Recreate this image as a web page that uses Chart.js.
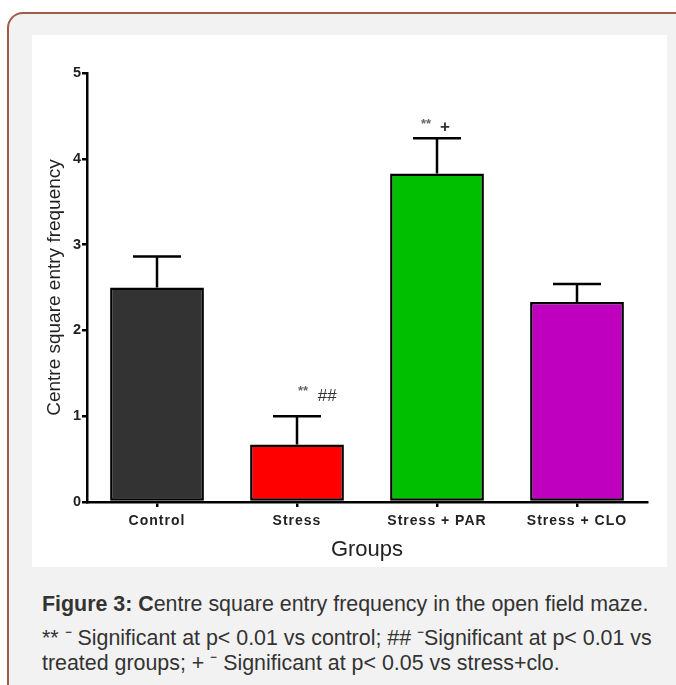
<!DOCTYPE html>
<html>
<head>
<meta charset="utf-8">
<script src="https://cdn.jsdelivr.net/npm/chart.js@4/dist/chart.umd.min.js"></script>
<style>
  html, body { margin: 0; padding: 0; background: #ffffff; width: 676px; height: 685px; overflow: hidden; }
  #frame {
    position: absolute; left: 7px; top: 12px; width: 700px; height: 700px;
    background: #f2f2f2; border-top: 2px solid #a05a48; border-left: 2px solid #a05a48;
    border-top-left-radius: 16px; box-sizing: border-box;
  }
  #panel { position: absolute; left: 32px; top: 35px; width: 635px; height: 532px; background: #ffffff; }
  #caption {
    position: absolute; left: 42px; top: 588px; width: 630px;
    font-family: "Liberation Sans", Arial, sans-serif;
    color: #333333; font-size: 21.4px;
  }
  #caption .l1 { line-height: 32px; }
  #caption .l2 { line-height: 25px; margin-top: 6px; }
</style>
</head>
<body>
<div id="frame"></div>
<div id="panel"><canvas id="c" width="635" height="532"></canvas></div>
<div id="caption">
  <div class="l1"><b>Figure 3: C</b>entre square entry frequency in the open field maze.</div>
  <div class="l2">** ⁻ Significant at p&lt; 0.01 vs control; ## ⁻Significant at p&lt; 0.01 vs treated groups; + ⁻ Significant at p&lt; 0.05 vs stress+clo.</div>
</div>
<script>
const categories = ["Control", "Stress", "Stress + PAR", "Stress + CLO"];
const means = [2.5, 0.67, 3.83, 2.33];
const errors = [0.36, 0.33, 0.41, 0.21];
const annotations = [[], ["**", "##"], ["**", "+"], []];
const yTicks = [0, 1, 2, 3, 4, 5];
const barColors = ["#333333", "#ff0000", "#00bf00", "#bf00bf"];

// placement of the significance marks relative to the error-bar cap (style only)
const annotationPlacement = [[], [[6, -27], [30, -21]], [[-11, -16], [8, -12]], []];

const xLabelSpacingPlugin = {
  id: "xLabelSpacing",
  beforeDraw(chart) {
    const s = chart.scales.x;
    if (!s._spaced) {
      const orig = s.drawLabels.bind(s);
      s.drawLabels = function (area) {
        chart.ctx.save();
        chart.ctx.letterSpacing = "1px";
        orig(area);
        chart.ctx.restore();
      };
      s._spaced = true;
    }
  }
};

const errorBarPlugin = {
  id: "errorBars",
  afterDatasetsDraw(chart) {
    const ctx = chart.ctx;
    const meta = chart.getDatasetMeta(0);
    const y = chart.scales.y;
    ctx.save();
    ctx.strokeStyle = "#000000";
    ctx.lineWidth = 2.5;
    meta.data.forEach((bar, i) => {
      const top = y.getPixelForValue(means[i]);
      const cap = y.getPixelForValue(means[i] + errors[i]);
      ctx.beginPath();
      ctx.moveTo(bar.x, top);
      ctx.lineTo(bar.x, cap);
      ctx.moveTo(bar.x - 24, cap);
      ctx.lineTo(bar.x + 24, cap);
      ctx.stroke();
      annotations[i].forEach((p, k) => {
        const [dx, dy] = annotationPlacement[i][k];
        ctx.textBaseline = "middle";
        ctx.textAlign = "center";
        if (p === "**") {
          ctx.font = "bold 13px 'Liberation Sans', Arial, sans-serif";
          ctx.fillStyle = "#666666";
          ctx.fillText(p, bar.x + dx, cap + dy + 2);
        } else if (p === "##") {
          ctx.font = "italic 17px 'Liberation Sans', Arial, sans-serif";
          ctx.fillStyle = "#333333";
          ctx.fillText(p, bar.x + dx, cap + dy + 1);
        } else {
          ctx.font = "bold 17px 'Liberation Sans', Arial, sans-serif";
          ctx.fillStyle = "#333333";
          ctx.fillText(p, bar.x + dx, cap + dy + 1);
        }
      });
    });
    ctx.restore();
  }
};

new Chart(document.getElementById("c"), {
  type: "bar",
  data: {
    labels: categories,
    datasets: [{
      data: means,
      backgroundColor: barColors,
      borderColor: "#000000",
      borderWidth: 2.5,
      borderSkipped: false,
      categoryPercentage: 1.0,
      barPercentage: 0.67
    }]
  },
  options: {
    responsive: false,
    animation: false,
    devicePixelRatio: 1,
    layout: { padding: { left: 0, right: 20, top: 38, bottom: 0 } },
    plugins: { legend: { display: false }, tooltip: { enabled: false } },
    scales: {
      x: {
        offset: true,
        grid: { display: true, drawOnChartArea: false, drawTicks: true, tickLength: 5, color: "#000000", lineWidth: 2.5, offset: false },
        border: { display: true, color: "#000000", width: 2.5 },
        ticks: { color: "#222222", font: { family: "'Liberation Sans', Arial, sans-serif", size: 14, weight: "bold" }, padding: 6 },
        title: { display: true, text: "Groups", color: "#222222", font: { family: "'Liberation Sans', Arial, sans-serif", size: 22 }, padding: { top: 0 } },
        afterFit(scale) { scale.height = 65; }
      },
      y: {
        min: 0, max: 5,
        afterBuildTicks(scale) { scale.ticks = yTicks.map(v => ({ value: v })); },
        grid: { display: true, drawOnChartArea: false, drawTicks: true, tickLength: 5, color: "#000000", lineWidth: 2.5 },
        border: { display: true, color: "#000000", width: 2.5 },
        ticks: { color: "#222222", font: { family: "'Liberation Sans', Arial, sans-serif", size: 14.5, weight: "bold" }, padding: 1 },
        title: { display: true, text: "Centre square entry frequency", color: "#222222", font: { family: "'Liberation Sans', Arial, sans-serif", size: 19 }, padding: { top: 11, bottom: 0 } },
        afterFit(scale) { scale.width = 55; }
      }
    }
  },
  plugins: [xLabelSpacingPlugin, errorBarPlugin]
});
</script>
</body>
</html>
